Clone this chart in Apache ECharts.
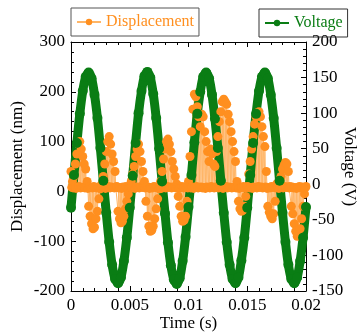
<!DOCTYPE html>
<html>
<head>
<meta charset="utf-8">
<script src="https://cdn.jsdelivr.net/npm/echarts@6/dist/echarts.min.js"></script>
<style>
  html, body { margin: 0; padding: 0; background: #fff; }
  #chart { width: 358px; height: 333px; }
</style>
</head>
<body>
<div id="chart"></div>
<script>
// sampling step (s)
const peakStep = 0.000125;
// displacement envelope samples (nm), t = k * peakStep
const dispPeak = [
  40, 20, 30, 55, 75, 95, 100, 85, 70, 55,
  45, 20, -30, -50, -65, -75, -72, -55, -40, -15,
  5, 15, 30, 55, 80, 100, 110, 95, 75, 60,
  40, 10, -40, -55, -63, -60, -50, -35, -20, -5,
  8, 20, 35, 50, 70, 85, 95, 80, 60, 40,
  20, -20, -50, -70, -80, -78, -70, -55, -35, -15,
  5, 20, 40, 65, 85, 100, 105, 95, 80, 60,
  45, 30, 15, -10, -30, -50, -60, -58, -50, -20,
  20, 70, 120, 165, 195, 190, 170, 150, 130, 155,
  150, 120, 100, 80, 60, 85, 75, 55, 50, 80,
  110, 140, 160, 180, 185, 180, 175, 155, 140, 120,
  100, 80, 60, 20, -20, -35, -40, -38, -30, -10,
  10, 35, 60, 85, 110, 135, 150, 158, 160, 150,
  130, 110, 90, 40, -30, -42, -50, -55, -45, -20,
  15, 10, 20, 30, 45, 52, 58, 55, 40, 10,
  -30, -45, -65, -80, -90, -88, -75, -55, -30, -5,
  10
];
// displacement baseline samples (nm), t = (k + 0.5) * peakStep
const dispBase = [
  8, 7, 9, 6, 8, 10, 7, 8, 9, 7,
  8, 6, 9, 8, 7, 10, 8, 7, 9, 8,
  7, 9, 8, 6, 8, 10, 7, 9, 8, 7,
  8, 9, 7, 8, 6, 9, 8, 10, 7, 8,
  9, 7, 8, 6, 9, 8, 7, 10, 8, 9,
  7, 8, 9, 6, 8, 7, 10, 8, 9, 7,
  8, 6, 9, 8, 7, 10, 8, 9, 7, 8,
  9, 7, 8, 6, 8, 10, 7, 9, 8, 7,
  8, 7, 9, 6, 8, 10, 7, 8, 9, 7,
  8, 6, 9, 8, 7, 10, 8, 7, 9, 8,
  7, 9, 8, 6, 8, 10, 7, 9, 8, 7,
  8, 9, 7, 8, 6, 9, 8, 10, 7, 8,
  9, 7, 8, 6, 9, 8, 7, 10, 8, 9,
  7, 8, 9, 6, 8, 7, 10, 8, 9, 7,
  8, 6, 9, 8, 7, 10, 8, 9, 7, 8,
  9, 7, 8, 6, 8, 10, 7, 9, 8, 7
];
// voltage (V), t = k * voltStep
const voltStep = 0.00025;
const voltage = [
  -33, 13, 58, 99, 131, 151, 157, 149, 126, 93, 51, 5, -40, -81, -113, -133, -139, -131, -108, -75,
  -33, 12, 58, 100, 131, 152, 158, 150, 127, 93, 50, 4, -41, -82, -114, -134, -140, -132, -108, -74,
  -32, 13, 59, 99, 130, 151, 157, 149, 126, 92, 51, 5, -40, -81, -113, -133, -139, -131, -107, -75,
  -33, 13, 58, 99, 131, 151, 157, 149, 126, 93, 51, 5, -40, -81, -113, -133, -139, -131, -108, -75,
  -32
];
const timeTicks = [0, 0.005, 0.01, 0.015, 0.02];
const dispTicks = [-200, -100, 0, 100, 200, 300];
const voltTicks = [-150, -100, -50, 0, 50, 100, 150, 200];

const ORANGE = '#ff8f1f';
const GREEN = '#0a7d14';
const FONT = "'Liberation Serif', 'Times New Roman', serif";

// merge envelope and baseline samples in time order
const dispData = [];
dispPeak.forEach((v, k) => {
  dispData.push([k * peakStep, v]);
  if (k < dispBase.length) dispData.push([(k + 0.5) * peakStep, dispBase[k]]);
});
const voltData = voltage.map((v, k) => [k * voltStep, v]);

const pickTick = (list) => (val) => {
  const t = list.find(x => Math.abs(x - val) < 1e-9);
  return t === undefined ? '' : String(t);
};

const axisCommon = {
  axisLine: { show: true, onZero: false, lineStyle: { color: '#000', width: 1 } },
  axisTick: { show: true, inside: true, length: 5, lineStyle: { color: '#000' } },
  minorTick: { show: true, splitNumber: 5, length: 3, lineStyle: { color: '#000' } },
  splitLine: { show: false },
  nameMoveOverlap: false,
  axisLabel: { color: '#000', fontFamily: FONT, fontSize: 17 }
};
const nameStyle = { color: '#000', fontFamily: FONT, fontSize: 17 };

const chart = echarts.init(document.getElementById('chart'));
chart.setOption({
  animation: false,
  backgroundColor: '#fff',
  textStyle: { fontFamily: FONT },
  legend: [
    {
      data: ['Displacement'],
      left: 71, top: 8,
      borderColor: '#555', borderWidth: 1,
      padding: [6, 5, 6, 5],
      itemWidth: 24, itemHeight: 8,
      textStyle: { color: ORANGE, fontFamily: FONT, fontSize: 16 }
    },
    {
      data: ['Voltage'],
      left: 259, top: 9,
      borderColor: '#333', borderWidth: 1,
      padding: [6, 5, 6, 5],
      itemWidth: 24, itemHeight: 8,
      textStyle: { color: GREEN, fontFamily: FONT, fontSize: 16 }
    }
  ],
  grid: { left: 71, right: 52, top: 42, bottom: 42, containLabel: false, outerBoundsMode: 'none' },
  xAxis: [
    Object.assign({}, axisCommon, {
      type: 'value',
      min: timeTicks[0], max: timeTicks[timeTicks.length - 1],
      interval: timeTicks[1] - timeTicks[0],
      name: 'Time (s)', nameLocation: 'middle', nameGap: 24,
      nameTextStyle: nameStyle,
      axisLabel: Object.assign({}, axisCommon.axisLabel, { margin: 6, formatter: pickTick(timeTicks) })
    }),
    Object.assign({}, axisCommon, {
      type: 'value', position: 'top',
      min: timeTicks[0], max: timeTicks[timeTicks.length - 1],
      interval: timeTicks[1] - timeTicks[0],
      axisLabel: { show: false }
    })
  ],
  yAxis: [
    Object.assign({}, axisCommon, {
      type: 'value', position: 'left',
      min: dispTicks[0], max: dispTicks[dispTicks.length - 1],
      interval: dispTicks[1] - dispTicks[0],
      name: 'Displacement (nm)', nameLocation: 'middle', nameGap: 45, nameRotate: 90,
      nameTextStyle: nameStyle,
      axisLabel: Object.assign({}, axisCommon.axisLabel, { margin: 6, formatter: pickTick(dispTicks) })
    }),
    Object.assign({}, axisCommon, {
      type: 'value', position: 'right',
      min: voltTicks[0], max: voltTicks[voltTicks.length - 1],
      interval: voltTicks[1] - voltTicks[0],
      name: 'Voltage (V)', nameLocation: 'middle', nameGap: 35, nameRotate: -90,
      nameTextStyle: nameStyle,
      axisLabel: Object.assign({}, axisCommon.axisLabel, { margin: 6, formatter: pickTick(voltTicks) })
    })
  ],
  series: [
    {
      name: 'Displacement',
      type: 'line',
      xAxisIndex: 0, yAxisIndex: 0,
      data: dispData,
      symbol: 'circle', symbolSize: 9,
      showAllSymbol: true,
      itemStyle: { color: ORANGE },
      lineStyle: { color: '#ffb566', width: 1 }
    },
    {
      name: 'Voltage',
      type: 'line',
      xAxisIndex: 0, yAxisIndex: 1,
      data: voltData,
      smooth: 0.3,
      symbol: 'circle', symbolSize: 10,
      showAllSymbol: true,
      itemStyle: { color: GREEN },
      lineStyle: { color: GREEN, width: 9 }
    }
  ]
});
</script>
</body>
</html>
